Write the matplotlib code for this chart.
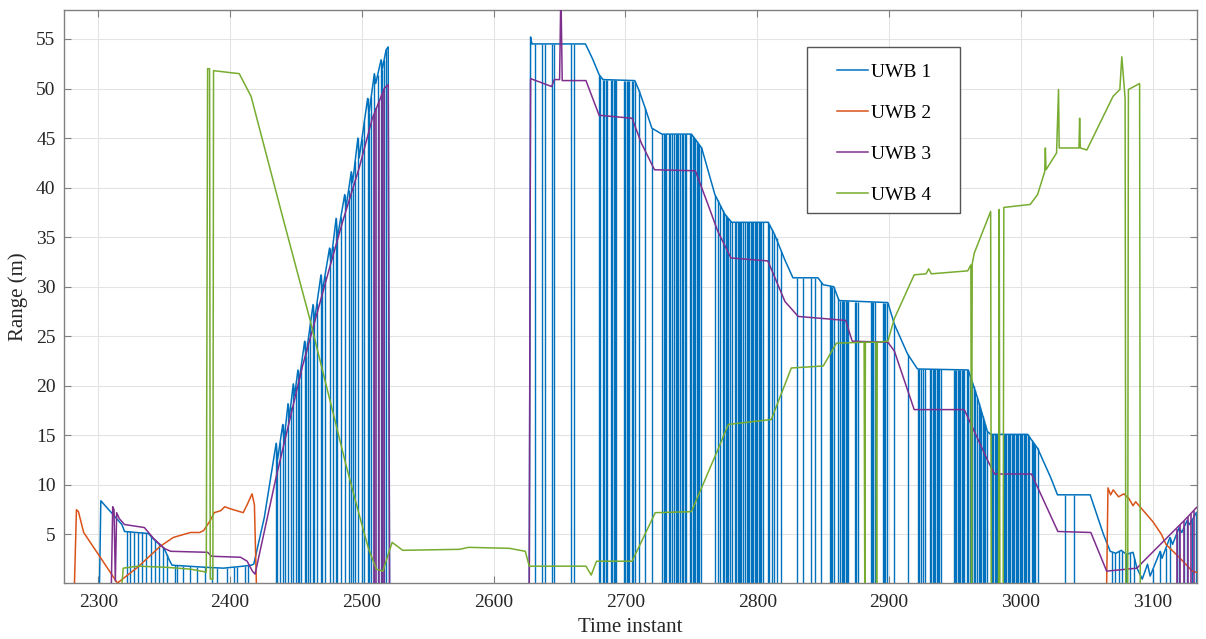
import matplotlib
matplotlib.use("Agg")
import matplotlib.pyplot as plt
from matplotlib.patches import Rectangle
import numpy as np

# ---- data (time instant, range in m) ----
# UWB 1, first burst
uwb1_t_a = [2301, 2302, 2310, 2318, 2320, 2338, 2343, 2350, 2354, 2356, 2380, 2395, 2410, 2416, 2418,
            2426, 2435, 2436, 2440, 2441, 2444, 2445, 2448, 2449, 2451.5, 2452.5, 2456.6, 2457.6,
            2463, 2464, 2469, 2470, 2475.5, 2476.5, 2480.5, 2481.5, 2487, 2488, 2492, 2493, 2497,
            2498, 2504.4, 2505.4, 2509.5, 2510.5, 2514.6, 2515.6, 2518.4, 2520, 2521]
uwb1_v_a = [0, 8.4, 7.2, 6.0, 5.3, 5.1, 4.4, 3.6, 2.4, 1.9, 1.7, 1.6, 1.8, 1.9, 2.0,
            6.7, 14.2, 12.5, 16.1, 14.5, 18.2, 16.8, 20.2, 19.0, 21.6, 20.5, 24.5, 23.0,
            28.2, 26.5, 31.2, 29.5, 33.9, 32.5, 36.9, 35.0, 39.3, 38.0, 41.6, 40.5, 45.0,
            43.0, 49.0, 47.5, 51.5, 50.5, 52.9, 52.0, 53.9, 54.2, 0]
# UWB 1, second burst
uwb1_t_b = [2627, 2628, 2629, 2669.6, 2675, 2680, 2683, 2707, 2710, 2715, 2720, 2727.6, 2750, 2757.8,
            2767.8, 2775.4, 2780.5, 2808.3, 2813, 2820.9, 2827, 2846, 2850, 2858, 2862, 2899, 2904,
            2914, 2921.5, 2960, 2967, 2974.5, 2977, 3005, 3012.6, 3022.7, 3027.7, 3052.5, 3062.6,
            3067.7, 3072, 3076, 3080, 3085, 3088, 3092, 3096, 3098, 3105.6, 3107, 3113, 3115, 3120,
            3122, 3126, 3128, 3133, 3140]
uwb1_v_b = [0, 55.2, 54.5, 54.5, 53.0, 51.4, 50.9, 50.8, 49.9, 48.0, 46.0, 45.4, 45.4, 44.0,
            39.3, 37.3, 36.5, 36.5, 35.3, 32.7, 30.9, 30.9, 30.2, 30.0, 28.6, 28.4, 26.2,
            23.2, 21.7, 21.6, 18.8, 15.4, 15.1, 15.1, 13.7, 10.7, 9.0, 9.0, 5.0,
            3.3, 3.1, 3.4, 3.0, 3.2, 1.6, 0.5, 2.0, 0.8, 3.3, 2.6, 4.7, 4.0, 5.7,
            5.2, 6.4, 6.0, 7.2, 7.6]
# UWB 1 dropouts to zero (time, level just before the drop)
uwb1_drop_t = [2322, 2324, 2327, 2330, 2333, 2336, 2340, 2343, 2346, 2349, 2352, 2358, 2360, 2364,
               2370, 2375, 2381, 2386, 2390, 2398, 2403, 2405, 2411, 2414,
               2435, 2436, 2438, 2440, 2442, 2444, 2446, 2448, 2450, 2451.5, 2452.5, 2454, 2456.6,
               2457.6, 2459, 2461, 2463, 2464, 2466, 2469, 2470, 2472, 2475.5, 2478, 2480.5,
               2481.5, 2484, 2487, 2490, 2492, 2493, 2495, 2497, 2500, 2502, 2504.4, 2505.4, 2507,
               2509.5, 2512, 2514.6, 2515.6, 2517, 2518.4,
               2631, 2637, 2639, 2644, 2646, 2659, 2661,
               2680, 2681, 2683, 2684, 2685, 2686, 2689, 2690, 2691, 2692, 2693, 2699, 2700, 2701,
               2702, 2703, 2705, 2706, 2707, 2710, 2715, 2720,
               2728, 2729, 2730, 2731, 2733, 2734, 2735, 2737, 2738, 2739, 2740, 2741, 2743, 2744,
               2745, 2746, 2749, 2750, 2751, 2752, 2753, 2754, 2755, 2756, 2757,
               2767.8, 2770, 2772, 2774, 2775, 2776, 2777, 2778, 2779, 2780.5, 2783, 2784, 2785,
               2786, 2787, 2788, 2789, 2791, 2792, 2793, 2794, 2795, 2796, 2797, 2798, 2799, 2800,
               2801, 2802, 2803, 2804, 2808, 2809, 2811, 2813, 2815, 2818,
               2830, 2835, 2841, 2844, 2848, 2855, 2856, 2857, 2858, 2861, 2863, 2864, 2865, 2866,
               2867, 2868, 2869, 2874, 2875, 2876, 2886, 2887, 2888, 2889, 2895, 2896, 2897, 2898,
               2904, 2914,
               2922, 2923, 2924, 2926, 2927, 2931, 2932, 2933, 2934, 2935, 2936, 2937, 2938, 2939,
               2949, 2950, 2951, 2952, 2953, 2954, 2955, 2956, 2957, 2959, 2960,
               2961, 2962, 2963, 2964, 2965, 2967, 2968, 2969, 2970, 2971, 2972, 2973, 2974.5,
               2977, 2978, 2979, 2980, 2981, 2982, 2987, 2988, 2989, 2990, 2991, 2992, 2993, 2994,
               2995, 2996, 2997, 2998, 2999, 3000, 3001, 3002, 3003, 3004, 3005,
               3006, 3008, 3009, 3010, 3011, 3012.6, 3033.5, 3040,
               3069, 3071, 3074, 3077, 3080, 3083, 3086,
               3100, 3105.6, 3110, 3113, 3118, 3120, 3124, 3126, 3130, 3133]
uwb1_drop_v = [5.3, 5.3, 5.2, 5.2, 5.2, 5.1, 4.8, 4.4, 4.1, 3.7, 3.0, 1.9, 1.9, 1.8,
               1.8, 1.7, 1.7, 1.7, 1.6, 1.6, 1.7, 1.7, 1.8, 1.9,
               14.2, 12.5, 14.3, 16.1, 15.7, 18.2, 17.9, 20.2, 20.0, 21.6, 20.5, 22.0, 24.5,
               23.0, 24.3, 26.3, 28.2, 26.5, 28.4, 31.2, 29.5, 31.1, 33.9, 34.1, 36.9,
               35.0, 37.0, 39.3, 39.8, 41.6, 40.5, 42.7, 45.0, 44.9, 46.7, 49.0, 47.5, 49.1,
               51.5, 51.4, 52.9, 52.0, 52.9, 53.9,
               54.5, 54.5, 54.5, 54.5, 54.5, 54.5, 54.5,
               51.4, 51.2, 50.9, 50.9, 50.9, 50.9, 50.9, 50.9, 50.9, 50.9, 50.9, 50.8, 50.8, 50.8,
               50.8, 50.8, 50.8, 50.8, 50.8, 49.9, 48.0, 46.0,
               45.4, 45.4, 45.4, 45.4, 45.4, 45.4, 45.4, 45.4, 45.4, 45.4, 45.4, 45.4, 45.4, 45.4,
               45.4, 45.4, 45.4, 45.4, 45.2, 45.0, 44.9, 44.7, 44.5, 44.3, 44.1,
               39.3, 38.7, 38.2, 37.7, 37.4, 37.2, 37.0, 36.9, 36.7, 36.5, 36.5, 36.5, 36.5,
               36.5, 36.5, 36.5, 36.5, 36.5, 36.5, 36.5, 36.5, 36.5, 36.5, 36.5, 36.5, 36.5, 36.5,
               36.5, 36.5, 36.5, 36.5, 36.5, 36.3, 35.8, 35.3, 34.9, 33.6,
               30.9, 30.9, 30.9, 30.9, 30.5, 30.1, 30.1, 30.0, 30.0, 28.9, 28.6, 28.6, 28.6, 28.6,
               28.6, 28.6, 28.6, 28.5, 28.5, 28.5, 28.5, 28.5, 28.5, 28.5, 28.4, 28.4, 28.4, 28.4,
               26.2, 23.2,
               21.7, 21.7, 21.7, 21.7, 21.7, 21.7, 21.7, 21.7, 21.7, 21.7, 21.7, 21.7, 21.7, 21.7,
               21.6, 21.6, 21.6, 21.6, 21.6, 21.6, 21.6, 21.6, 21.6, 21.6, 21.6,
               21.2, 20.8, 20.4, 20.0, 19.6, 18.8, 18.3, 17.9, 17.4, 17.0, 16.5, 16.1, 15.4,
               15.1, 15.1, 15.1, 15.1, 15.1, 15.1, 15.1, 15.1, 15.1, 15.1, 15.1, 15.1, 15.1, 15.1,
               15.1, 15.1, 15.1, 15.1, 15.1, 15.1, 15.1, 15.1, 15.1, 15.1, 15.1,
               14.9, 14.5, 14.3, 14.1, 13.9, 13.7, 9.0, 9.0,
               3.2, 3.1, 3.3, 3.3, 3.0, 3.1, 2.6,
               1.5, 3.3, 3.6, 4.7, 5.0, 5.7, 5.8, 6.4, 6.5, 7.2]

# UWB 2
uwb2_t_a = [2282, 2283.5, 2285, 2289, 2314.6, 2330, 2347, 2357, 2370, 2377, 2380, 2385, 2388, 2393,
            2396, 2400, 2405, 2410, 2413, 2416.7, 2418.5, 2420]
uwb2_v_a = [0, 7.5, 7.3, 5.2, 0.1, 1.7, 3.8, 4.7, 5.2, 5.2, 5.4, 6.4, 7.2, 7.4,
            7.8, 7.6, 7.4, 7.2, 8.0, 9.1, 8.0, 0]
uwb2_t_b = [3065, 3066, 3068, 3070, 3074, 3078, 3082, 3085, 3087, 3100, 3106.6, 3110, 3120, 3130, 3140]
uwb2_v_b = [0, 9.7, 9.0, 9.5, 8.8, 9.1, 8.6, 7.9, 8.3, 6.3, 5.0, 4.0, 2.7, 1.3, 0.9]

# UWB 3
uwb3_t_a = [2310, 2311, 2312, 2313, 2314, 2316, 2320, 2335, 2342, 2350, 2355, 2383, 2386, 2408, 2413,
            2417, 2419, 2435, 2455, 2475.5, 2485.5, 2498, 2508, 2517, 2520, 2521]
uwb3_v_a = [0, 7.8, 7.5, 0.3, 7.2, 6.6, 6.0, 5.7, 4.6, 3.6, 3.3, 3.2, 2.8, 2.7, 2.3,
            1.3, 1.0, 10.8, 22.0, 31.9, 36.6, 42.0, 47.0, 50.0, 50.4, 0]
uwb3_t_b = [2627, 2628, 2644, 2646, 2650, 2651, 2652, 2670, 2680, 2705, 2712, 2722, 2753, 2762, 2770,
            2780, 2808, 2821, 2831, 2867, 2872, 2899, 2904, 2919, 2957, 2975, 2980, 3008, 3028,
            3053, 3065, 3088, 3093, 3126, 3133, 3140]
uwb3_v_b = [0, 51.0, 50.2, 50.9, 50.9, 60, 50.8, 50.8, 47.3, 47.0, 44.5, 41.8, 41.7, 38.5, 35.6,
            32.9, 32.6, 28.5, 27.0, 26.6, 24.5, 24.4, 23.5, 17.6, 17.6, 12.4, 11.1, 11.1, 5.3,
            5.2, 1.3, 1.6, 2.3, 6.7, 7.7, 8.3]
uwb3_drop_t = [2509, 2511, 2513, 2515, 2517, 3118, 3121, 3124, 3127, 3129, 3131]
uwb3_drop_v = [47.3, 48.0, 48.7, 49.3, 50.0, 5.6, 6.0, 6.4, 6.8, 7.1, 7.4]

# UWB 4
uwb4_t = [2318, 2319, 2330, 2350, 2370, 2382, 2383, 2384.5, 2385, 2387, 2387.5, 2407, 2416, 2440,
          2460, 2488, 2500, 2505, 2511, 2516, 2520, 2523, 2531, 2574, 2581, 2612, 2624, 2627, 2670,
          2674, 2678, 2705, 2722.6, 2750, 2770.5, 2778, 2810.6, 2825.8, 2850, 2860, 2881, 2881.5,
          2882, 2890, 2890.5, 2891, 2899, 2904, 2919, 2928, 2930, 2932, 2959.6, 2962, 2962.5,
          2963, 2964.6, 2977, 2977.5, 2983, 2983.5, 2984, 2986.5, 2987, 3007, 3012.6, 3018,
          3018.5, 3019, 3027, 3028.5, 3029, 3044, 3044.5, 3045, 3050, 3069.8, 3075, 3076.5, 3079,
          3079.5, 3081, 3081.5, 3090, 3090.5]
uwb4_v = [0, 1.6, 1.8, 1.7, 1.5, 1.2, 52.0, 52.0, 0.5, 0.5, 51.8, 51.5, 49.2, 37.0,
          27.0, 12.0, 6.0, 3.6, 1.5, 1.3, 3.0, 4.2, 3.4, 3.5, 3.7, 3.6, 3.3, 1.8, 1.8,
          0.9, 2.3, 2.3, 7.2, 7.3, 13.7, 16.1, 16.6, 21.8, 22.0, 24.3, 24.4, 0,
          24.4, 24.4, 0, 24.4, 24.5, 26.8, 31.2, 31.3, 31.8, 31.3, 31.6, 32.2, 0,
          32.3, 33.4, 37.6, 0, 0, 37.8, 0, 0, 38.0, 38.3, 39.3, 41.6,
          44.0, 41.8, 43.5, 49.9, 44.0, 44.0, 47.0, 44.0, 43.8, 49.2, 49.9, 53.2, 49.0,
          0, 0, 49.9, 50.5, 0]

labels = ["UWB 1", "UWB 2", "UWB 3", "UWB 4"]
colors = ["#0072BD", "#D95319", "#7E2F8E", "#77AC30"]


def join(a, b):
    return np.concatenate([np.asarray(a, float), [np.nan], np.asarray(b, float)])


plt.rcParams["font.family"] = ["Liberation Serif", "DejaVu Serif"]

fig = plt.figure(figsize=(12.06, 6.39), dpi=100)
ax = fig.add_axes([0.053, 0.0876, 0.9395, 0.8964])

lw = 1.1
h1, = ax.plot(join(uwb1_t_a, uwb1_t_b), join(uwb1_v_a, uwb1_v_b), color=colors[0], lw=lw, zorder=2)
ax.vlines(uwb1_drop_t, 0, uwb1_drop_v, color=colors[0], lw=1.0, zorder=2)
h2, = ax.plot(join(uwb2_t_a, uwb2_t_b), join(uwb2_v_a, uwb2_v_b), color=colors[1], lw=lw, zorder=3)
h3, = ax.plot(join(uwb3_t_a, uwb3_t_b), join(uwb3_v_a, uwb3_v_b), color=colors[2], lw=lw, zorder=4)
ax.vlines(uwb3_drop_t, 0, uwb3_drop_v, color=colors[2], lw=1.2, zorder=4)
h4, = ax.plot(uwb4_t, uwb4_v, color=colors[3], lw=lw, zorder=5)

ax.set_xlim(2274, 3133.5)
ax.set_ylim(0.1, 57.9)
ax.set_xticks(np.arange(2300, 3101, 100))
ax.set_yticks(np.arange(5, 56, 5))

ax.grid(True, color="#e3e3e3", lw=0.8)
ax.set_axisbelow(True)
for s in ax.spines.values():
    s.set_color("#808080")
    s.set_linewidth(1.0)
ax.tick_params(direction="in", top=True, right=True, length=5, width=0.8, color="#808080",
               labelsize=14, labelcolor="#262626")
ax.tick_params(axis="x", pad=8)
ax.tick_params(axis="y", pad=6)

ax.set_xlabel("Time instant", fontsize=15, labelpad=5, color="#262626")
ax.set_ylabel("Range (m)", fontsize=15, labelpad=6, color="#262626")

# legend box drawn separately so its padding can match the reference
ax.add_patch(Rectangle((0.6558, 0.6457), 0.135, 0.2897, transform=ax.transAxes,
                       facecolor="white", edgecolor="#555555", lw=1.0, zorder=6))
leg = ax.legend([h1, h2, h3, h4], labels, loc="upper left", bbox_to_anchor=(0.6823, 0.9075),
                fontsize=14, frameon=False, handlelength=1.6, handletextpad=0.15,
                labelspacing=1.2, borderpad=0, borderaxespad=0)
leg.set_zorder(7)

fig.savefig("out.png", dpi=100)
